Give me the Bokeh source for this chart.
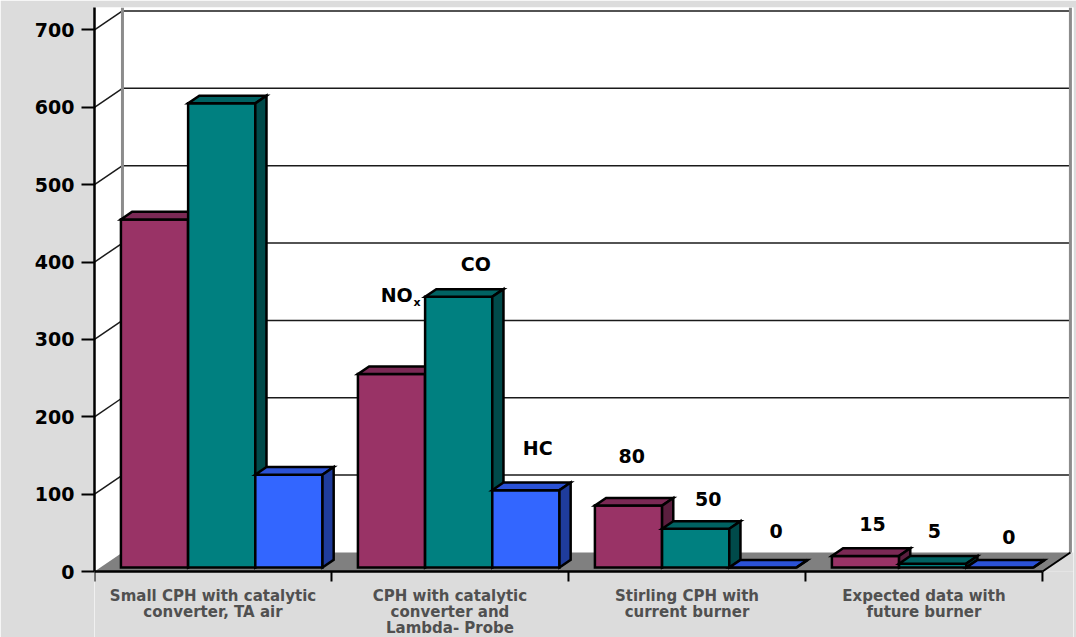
from bokeh.plotting import figure
from bokeh.models import Range1d, LinearAxis, FixedTicker, ColumnDataSource
from bokeh.core.properties import value
from bokeh.embed import file_html
from bokeh.resources import INLINE

# ---------------- data ----------------
categories = [
    "Small CPH with catalytic\nconverter, TA air",
    "CPH with catalytic\nconverter and\nLambda- Probe",
    "Stirling CPH with\ncurrent burner",
    "Expected data with\nfuture burner",
]
series_names = ["NOx", "CO", "HC"]
nox = [450, 250, 80, 15]
co = [600, 350, 50, 5]
hc = [120, 100, 0, 0]
y_ticks = [0, 100, 200, 300, 400, 500, 600, 700]

# value labels shown for the last two categories (category index, series index)
value_label_bars = [(2, 0), (2, 1), (2, 2), (3, 0), (3, 1), (3, 2)]
# annotation positions (data units) for those labels
value_label_x = [2.267, 2.590, 2.876, 3.283, 3.544, 3.858]
value_label_y = [149, 94, 52, 61, 52, 45]
# series name annotation positions (data units)
series_label_x = [1.343, 1.609, 1.870]
series_label_y = [357, 398, 159]

# ---------------- style ----------------
front_colors = ["#993366", "#008080", "#3366ff"]
top_colors = ["#7b2955", "#006262", "#2b52d6"]
side_colors = ["#5a1e3e", "#004a4a", "#1f3c9c"]
BG = "#dcdcdc"
FONT = "DejaVu Sans"

N = len(categories)
UY = 0.7736      # px per value unit
DX = 0.118       # floor depth, x units
DY = 24.6        # floor depth, value units
X_END = N + DX + 0.013
Y_END = 564 / UY
Y_START = -66 / UY
TICK_LEN = 10 / UY
CAT_LABEL_Y = -19.5
BAR_W = 0.2835
F0 = 0.21        # front face depth fraction
BD = 0.40        # bar depth fraction
GROUP_SHIFT = 0.012

p = figure(width=1076, height=637,
           x_range=Range1d(0, X_END), y_range=Range1d(Y_START, Y_END),
           x_axis_type=None, y_axis_type=None,
           output_backend="svg", toolbar_location=None,
           min_border_left=94, min_border_right=3, min_border_top=7, min_border_bottom=0)
p.background_fill_color = "#ffffff"
p.border_fill_color = BG
p.outline_line_color = None

# area below the floor, floor, lower right background
p.quad(left=[0], right=[X_END], bottom=[Y_START], top=[0], fill_color=BG, line_color=None)
p.patch([0, N, N + DX, DX], [0, 0, DY, DY], fill_color="#808080", line_color=None)
p.patch([N, N + DX, X_END, X_END], [0, DY, DY, 0], fill_color=BG, line_color=None)

# back wall grid lines and side wall diagonals
gv = y_ticks[1:]
p.segment(x0=[DX] * len(gv), y0=[v + DY for v in gv], x1=[N + DX] * len(gv), y1=[v + DY for v in gv],
          line_color="#1a1a1a", line_width=1.5)
p.segment(x0=[0] * len(gv), y0=gv, x1=[DX] * len(gv), y1=[v + DY for v in gv],
          line_color="#1a1a1a", line_width=1.5)
p.segment(x0=[DX, N + DX], y0=[DY, DY], x1=[DX, N + DX], y1=[Y_END, Y_END],
          line_color="#8c8c8c", line_width=3)
p.line([N, N + DX], [0, DY], line_color="black", line_width=2)

# 3D bars
xs, ys, fills = [], [], []
series_vals = [nox, co, hc]
for c in range(N):
    for s, vals in enumerate(series_vals):
        v = vals[c]
        x0 = c + 0.5 - 1.5 * BAR_W + s * BAR_W + GROUP_SHIFT + F0 * DX
        x1 = x0 + BAR_W
        yb = F0 * DY
        yt = v + F0 * DY
        ddx, ddy = BD * DX, BD * DY
        xs.append([x0, x1, x1, x0]); ys.append([yb, yb, yt, yt]); fills.append(front_colors[s])
        xs.append([x0, x1, x1 + ddx, x0 + ddx]); ys.append([yt, yt, yt + ddy, yt + ddy]); fills.append(top_colors[s])
        xs.append([x1, x1 + ddx, x1 + ddx, x1]); ys.append([yb, yb + ddy, yt + ddy, yt]); fills.append(side_colors[s])
bars = ColumnDataSource(dict(xs=xs, ys=ys, fill=fills))
p.patches("xs", "ys", source=bars, fill_color="fill", line_color="black", line_width=2.5, line_join="miter")

# category (x) axis: line, boundary ticks and multi-line labels
p.segment(x0=[0], y0=[0], x1=[N], y1=[0], line_color="black", line_width=2.5)
p.segment(x0=list(range(N + 1)), y0=[0] * (N + 1), x1=list(range(N + 1)), y1=[-TICK_LEN] * (N + 1),
          line_color="black", line_width=2)
p.text(x=[i + 0.5 for i in range(N)], y=[CAT_LABEL_Y] * N, text=categories, text_font=value(FONT),
       text_font_style="bold", text_font_size="15px", text_align="center", text_baseline="top",
       text_color="#505050", text_line_height=0.9)

# value labels
vtext = [str(series_vals[s][c]) for c, s in value_label_bars]
p.text(x=value_label_x, y=value_label_y, text=vtext, text_font=value(FONT), text_font_style="bold",
       text_font_size="19px", text_align="center", text_baseline="middle", text_color="black")

# series labels (NOx with subscript)
p.text(x=[series_label_x[0]], y=[series_label_y[0]], text=["NO"], text_font=value(FONT), text_font_style="bold",
       text_font_size="19px", text_align="right", text_baseline="middle", text_color="black")
p.text(x=[series_label_x[0] + 0.003], y=[series_label_y[0] - 9], text=["x"], text_font=value(FONT),
       text_font_style="bold", text_font_size="11px", text_align="left", text_baseline="middle", text_color="black")
p.text(x=series_label_x[1:], y=series_label_y[1:], text=series_names[1:], text_font=value(FONT),
       text_font_style="bold", text_font_size="19px", text_align="center", text_baseline="middle",
       text_color="black")

# value axis
yaxis = LinearAxis(ticker=FixedTicker(ticks=y_ticks, minor_ticks=[]), bounds=(0, Y_END),
                   axis_line_color="black", axis_line_width=2.5,
                   major_tick_line_color="black", major_tick_line_width=2,
                   major_tick_in=0, major_tick_out=13, minor_tick_line_color=None,
                   major_label_standoff=7, major_label_text_font=FONT,
                   major_label_text_font_size="19px", major_label_text_font_style="bold",
                   major_label_text_color="black")
p.add_layout(yaxis, "left")

open("out.html", "w").write(file_html(p, INLINE))
